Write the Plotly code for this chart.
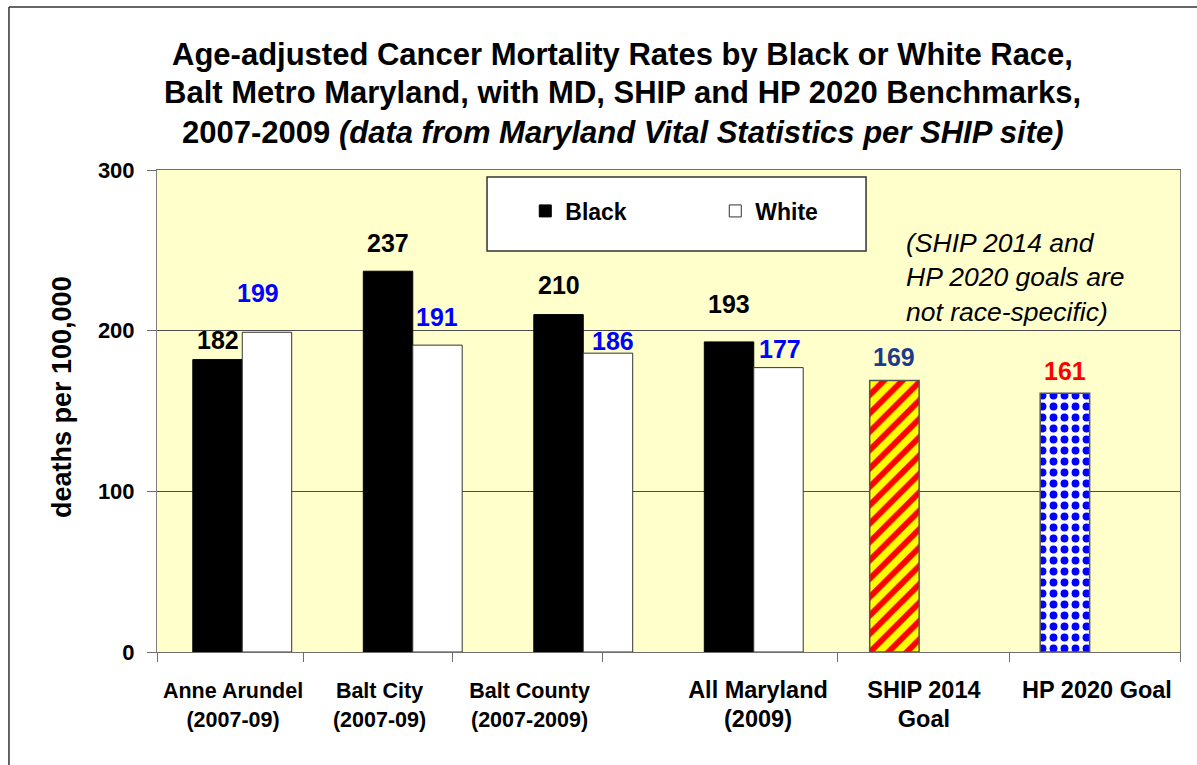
import numpy as np
import plotly.graph_objects as go

# ---------------- data ----------------
categories = [
    "Anne Arundel<br>(2007-09)",
    "Balt City<br>(2007-09)",
    "Balt County<br>(2007-2009)",
    "All Maryland<br>(2009)",
    "SHIP 2014<br>Goal",
    "HP 2020 Goal",
]
black_values = [182, 237, 210, 193, None, None]
white_values = [199, 191, 186, 177, None, None]
goal_values = [None, None, None, None, 169, 161]
y_tick_values = [0, 100, 200, 300]

# ---------------- layout constants ----------------
FONT = "Arial, 'Liberation Sans', sans-serif"
centers = np.arange(len(categories)) + 0.5
BAR_W = 0.29
GOAL_OFF = -0.32
label_pos = [0.446, 1.305, 2.185, 3.525, 4.498, 5.513]
label_size = [21.5, 21.5, 21.5, 23.5, 23.5, 23.5]
tick_pos = [0, 0.862, 1.736, 2.61, 3.994, 5.0, 6.0]
black_shift = [(0, 20), (0, 28), (0, 30), (0, 38)]
white_shift = [(-9, 39), (0, 28), (5, 12), (2, 19)]
goal_shift = [(0, 23), (0, 22)]
goal_label_colors = ["#1c3a8c", "#ff0000"]


def sized(label, size):
    return "<br>".join(f"<span style='font-size:{size}px'>{part}</span>"
                       for part in label.split("<br>"))


ticktext = [sized(c, s) for c, s in zip(categories, label_size)]

fig = go.Figure()

fig.add_trace(go.Bar(
    name="Black", x=centers, y=black_values, width=BAR_W, offset=-BAR_W,
    marker=dict(color="#000000", line=dict(color="#000000", width=1)),
))
fig.add_trace(go.Bar(
    name="White", x=centers, y=white_values, width=BAR_W, offset=0,
    marker=dict(color="#ffffff", line=dict(color="#333333", width=1)),
))
# goal bars: SHIP (striped) and HP (dotted)
fig.add_trace(go.Bar(
    name="SHIP", x=[centers[4]], y=[goal_values[4]], width=BAR_W, offset=GOAL_OFF,
    showlegend=False,
    marker=dict(color="#ffff00", line=dict(color="#555555", width=1.5),
                pattern=dict(shape="/", fgcolor="#ff0000", bgcolor="#ffff00",
                             size=13, solidity=0.45, fillmode="replace")),
))
fig.add_trace(go.Bar(
    name="HP", x=[centers[5]], y=[goal_values[5]], width=BAR_W, offset=GOAL_OFF,
    showlegend=False,
    marker=dict(color="#ffffff", line=dict(color="#555555", width=1.5),
                pattern=dict(shape=".", fgcolor="#0000ff", bgcolor="#ffffff",
                             size=11, solidity=0.4, fillmode="replace")),
))

# invisible trace to carry the x tick marks on a second axis
fig.add_trace(go.Scatter(x=[0, 6], y=[0, 0], xaxis="x2", mode="markers",
                         marker=dict(opacity=0), showlegend=False, hoverinfo="skip"))

annotations = []
for i, v in enumerate(black_values):
    if v is None:
        continue
    dx, dy = black_shift[i]
    annotations.append(dict(x=centers[i] - BAR_W / 2, y=v, xref="x", yref="y",
                            text=str(v), showarrow=False, xshift=dx, yshift=dy,
                            yanchor="middle",
                            font=dict(family=FONT, size=25, color="#000000", weight="bold")))
for i, v in enumerate(white_values):
    if v is None:
        continue
    dx, dy = white_shift[i]
    annotations.append(dict(x=centers[i] + BAR_W / 2, y=v, xref="x", yref="y",
                            text=str(v), showarrow=False, xshift=dx, yshift=dy,
                            yanchor="middle",
                            font=dict(family=FONT, size=25, color="#0000ff", weight="bold")))
for k, i in enumerate([4, 5]):
    v = goal_values[i]
    dx, dy = goal_shift[k]
    annotations.append(dict(x=centers[i] + GOAL_OFF + BAR_W / 2, y=v, xref="x", yref="y",
                            text=str(v), showarrow=False, xshift=dx, yshift=dy,
                            yanchor="middle",
                            font=dict(family=FONT, size=25, color=goal_label_colors[k], weight="bold")))

# title lines
title_lines = [
    "Age-adjusted Cancer Mortality Rates by Black or White Race,",
    "Balt Metro Maryland, with MD, SHIP and HP 2020 Benchmarks,",
    "2007-2009 <i>(data from Maryland Vital Statistics per SHIP site)</i>",
]
title_y = [1.2386, 1.1598, 1.0768]
for t, yy in zip(title_lines, title_y):
    annotations.append(dict(x=0.4555, y=yy, xref="paper", yref="paper", text=t,
                            showarrow=False, xanchor="center", yanchor="middle",
                            font=dict(family=FONT, size=31, color="#000000", weight="bold")))

# y-axis title
annotations.append(dict(x=-0.0929, y=0.529, xref="paper", yref="paper",
                        text="deaths per 100,000", textangle=-90, showarrow=False,
                        xanchor="center", yanchor="middle",
                        font=dict(family=FONT, size=27, color="#000000", weight="bold")))

# note
annotations.append(dict(
    x=0.7305, y=0.778, xref="paper", yref="paper",
    text="<i>(SHIP 2014 and<br>HP 2020 goals are<br>not race-specific)</i>",
    showarrow=False, xanchor="left", yanchor="middle", align="left",
    font=dict(family=FONT, size=26.5, color="#000000")))

shapes = [
    # legend box
    dict(type="rect", xref="paper", yref="paper", x0=0.3226, x1=0.6931, y0=0.832, y1=0.9855,
         fillcolor="#ffffff", line=dict(color="#333333", width=1.5), layer="above"),
    # outer chart border (left and top)
    dict(type="line", xref="paper", yref="paper", x0=-0.1447, x1=-0.1447, y0=1.338, y1=-0.3,
         line=dict(color="#333333", width=1.5)),
    dict(type="line", xref="paper", yref="paper", x0=-0.1447, x1=1.1, y0=1.338, y1=1.338,
         line=dict(color="#333333", width=1.5)),
]

fig.update_layout(
    width=1197, height=765,
    margin=dict(l=157, r=17, t=170, b=113, autoexpand=False),
    paper_bgcolor="#ffffff",
    plot_bgcolor="#ffffcc",
    barmode="overlay",
    font=dict(family=FONT, color="#000000"),
    showlegend=True,
    legend=dict(orientation="h", x=0.36, y=0.915, xanchor="left", yanchor="middle",
                bgcolor="rgba(0,0,0,0)", borderwidth=0, entrywidth=145,
                font=dict(family=FONT, size=23, color="#000000", weight="bold")),
    xaxis=dict(range=[0, 6], tickmode="array", tickvals=label_pos, ticktext=ticktext,
               ticks="", showgrid=False, zeroline=False, showline=True, mirror=True,
               linecolor="#6e6e6e", linewidth=1, ticklabelstandoff=19,
               tickfont=dict(family=FONT, size=22, color="#000000", weight="bold")),
    xaxis2=dict(range=[0, 6], overlaying="x", anchor="y", side="bottom",
                tickmode="array", tickvals=tick_pos, ticks="outside", ticklen=9,
                tickcolor="#6e6e6e", showticklabels=False, showgrid=False,
                zeroline=False, showline=False),
    yaxis=dict(range=[0, 300], tickmode="array", tickvals=y_tick_values,
               ticks="outside", ticklen=9, tickcolor="#6e6e6e",
               showgrid=True, gridcolor="#4d4d4d", gridwidth=1, zeroline=False,
               showline=True, mirror=True, linecolor="#808080", linewidth=1,
               ticklabelstandoff=8,
               tickfont=dict(family=FONT, size=22, color="#000000", weight="bold")),
    annotations=annotations,
    shapes=shapes,
)

fig.write_html("out.html",
               config={"displayModeBar": False},
               post_script="document.body.style.margin='0';document.body.style.padding='0';")
